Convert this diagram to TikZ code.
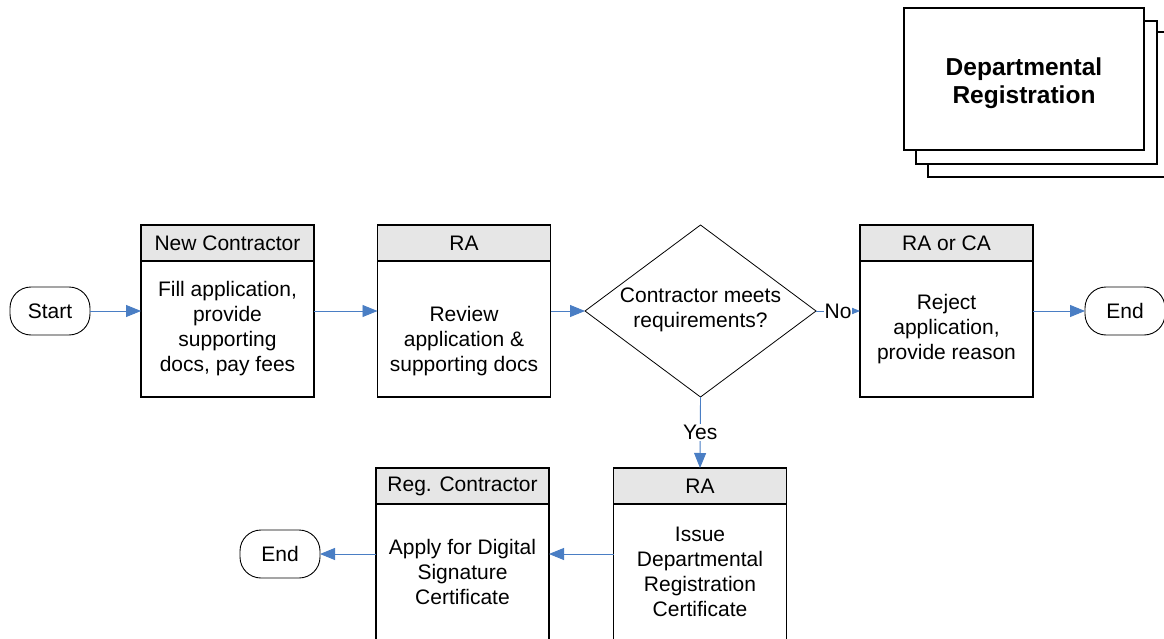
\documentclass[tikz,border=0pt]{standalone}
\usepackage{fontspec}
\setmainfont{Liberation Sans}
\usetikzlibrary{shapes.geometric,arrows.meta}
\definecolor{flowblue}{HTML}{4A7EC4}
\definecolor{headgray}{HTML}{E6E6E6}
\begin{document}
\begin{tikzpicture}[x=1pt,y=-1pt,
  every node/.style={font=\fontsize{21}{25}\selectfont},
  box/.style={draw,line width=1.1pt,minimum width=173pt,minimum height=172pt,inner sep=0pt,outer sep=0pt},
  head/.style={draw,line width=1.1pt,fill=headgray,minimum width=173pt,minimum height=36pt,inner sep=0pt,outer sep=0pt,anchor=north},
  bodytext/.style={align=center,inner sep=0pt},
  term/.style={draw,line width=0.9pt,rounded corners=21pt,minimum width=80pt,minimum height=48pt,inner sep=0pt,outer sep=0pt},
  flow/.style={draw=flowblue,line width=0.9pt,-{Triangle[length=15pt,width=12pt]}},
  lbl/.style={fill=white,inner sep=1pt}
]
\useasboundingbox (0,0) rectangle (1164,639);

% stacked document
\draw[fill=white,line width=1.1pt] (928,32) rectangle (1180,177);
\draw[fill=white,line width=1.1pt] (916,21) rectangle (1157,164);
\node[draw,fill=white,line width=1.1pt,minimum width=240pt,minimum height=142pt] (doc) at (1024,79) {};
\node[bodytext,font=\bfseries\fontsize{24.5}{28}\selectfont] (doct) at (1024,83)
  {Departmental\\Registration};

% top row
\node[term] (start) at (50,311) {Start};

\node[box] (nc) at (227.5,311) {};
\node[head] (nch) at (nc.north) {New Contractor};
\node[bodytext] (nct) at (227.5,329) {Fill application,\\provide\\supporting\\docs, pay fees};

\node[box] (ra) at (464,311) {};
\node[head] (rah) at (ra.north) {RA};
\node[bodytext] (rat) at (464,341) {Review\\application \&\\supporting docs};

\node[draw,shape=diamond,line width=0.8pt,minimum width=231pt,minimum height=172pt,inner sep=0pt,outer sep=0pt] (dec) at (700.5,311) {};
\node[bodytext] (dect) at (700.5,310) {Contractor meets\\requirements?};

\node[box] (rc) at (946.5,311) {};
\node[head] (rch) at (rc.north) {RA or CA};
\node[bodytext] (rct) at (946.5,329) {Reject\\application,\\provide reason};

\node[term] (end1) at (1125,311) {End};

% bottom row
\node[box] (ra2) at (700,554) {};
\node[head] (ra2h) at (ra2.north) {RA};
\node[bodytext] (ra2t) at (700,572) {Issue\\Departmental\\Registration\\Certificate};

\node[box] (rg) at (462.5,554) {};
\node[head] (rgh) at (rg.north) {Reg. Contractor};
\node[bodytext] (rgt) at (462.5,572) {Apply for Digital\\Signature\\Certificate};

\node[term] (end2) at (280,554) {End};

% connectors
\draw[flow] (start) -- (nc);
\draw[flow] (nc) -- (ra);
\draw[flow] (ra) -- (dec);
\draw[flow] (dec.east) -- node[lbl] {No} (rc.west);
\draw[flow] (rc) -- (end1);
\draw[flow] (dec.south) -- node[lbl] {Yes} (ra2h.north);
\draw[flow] (ra2) -- (rg);
\draw[flow] (rg) -- (end2);
\end{tikzpicture}
\end{document}
